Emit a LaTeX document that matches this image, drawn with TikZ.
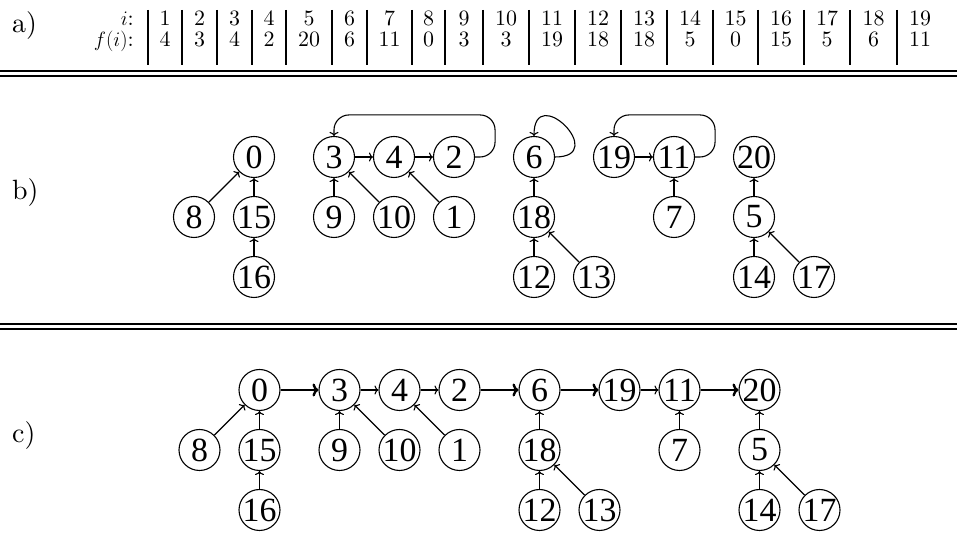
\documentclass[tikz,border=0pt]{standalone}
\usepackage{fontspec}
\usepackage{tikz}
\usetikzlibrary{arrows.meta}
\newfontfamily\numfont{Liberation Serif}
\newfontfamily\tabfont{lmroman10-regular.otf}

\newcommand\drawforest[3]{%
  \begin{scope}[shift={(#2,#3)}, x=20bp, y=20bp]
    \node[vtx] (#10) at (0,0) {0};
    \node[vtx] (#18) at (-3,-3) {8};
    \node[vtx] (#115) at (0,-3) {15};
    \node[vtx] (#116) at (0,-6) {16};
    \node[vtx] (#13) at (4,0) {3};
    \node[vtx] (#14) at (7,0) {4};
    \node[vtx] (#12) at (10,0) {2};
    \node[vtx] (#19) at (4,-3) {9};
    \node[vtx] (#110) at (7,-3) {10};
    \node[vtx] (#11) at (10,-3) {1};
    \node[vtx] (#16) at (14,0) {6};
    \node[vtx] (#118) at (14,-3) {18};
    \node[vtx] (#112) at (14,-6) {12};
    \node[vtx] (#113) at (17,-6) {13};
    \node[vtx] (#119) at (18,0) {19};
    \node[vtx] (#111) at (21,0) {11};
    \node[vtx] (#17) at (21,-3) {7};
    \node[vtx] (#120) at (25,0) {20};
    \node[vtx] (#15) at (25,-3) {5};
    \node[vtx] (#114) at (25,-6) {14};
    \node[vtx] (#117) at (28,-6) {17};
    \draw[lnk] (#18) -- (#10);
    \draw[lnk] (#115) -- (#10);
    \draw[lnk] (#116) -- (#115);
    \draw[lnk] (#19) -- (#13);
    \draw[lnk] (#110) -- (#13);
    \draw[lnk] (#11) -- (#14);
    \draw[lnk] (#13) -- (#14);
    \draw[lnk] (#14) -- (#12);
    \draw[lnk] (#118) -- (#16);
    \draw[lnk] (#112) -- (#118);
    \draw[lnk] (#113) -- (#118);
    \draw[lnk] (#119) -- (#111);
    \draw[lnk] (#17) -- (#111);
    \draw[lnk] (#15) -- (#120);
    \draw[lnk] (#114) -- (#15);
    \draw[lnk] (#117) -- (#15);
  \end{scope}}

\begin{document}
\begin{tikzpicture}[
  x=1bp, y=1bp,
  vtx/.style={circle, draw, line width=1.1bp, minimum size=41bp, inner sep=0pt,
    font=\numfont\fontsize{34}{40}\selectfont},
  lnk/.style={-{To[width=9bp,length=4bp]}, line width=1.1bp},
  jump/.style={-{To[width=13bp,length=6bp]}, line width=2.4bp},
  cell/.style={anchor=base, inner sep=0pt, font=\tabfont\fontsize{22}{26}\selectfont},
  hdr/.style={cell, anchor=base east},
  tag/.style={anchor=base west, inner sep=0pt, font=\tabfont\fontsize{28}{32}\selectfont},
  bar/.style={line width=1.6bp},
  rule/.style={line width=2bp, double distance=3bp}
]
\useasboundingbox (0,0) rectangle (957,533);

\node[tag] (lbla) at (12,500) {a)};
\node[hdr] (hi) at (134,507) {$i$:};
\node[hdr] (hf) at (134,486) {$f(i)$:};
\foreach \i/\f/\l/\r in {1/4/148/182, 2/3/182/217, 3/4/217/252, 4/2/252/286,
    5/20/286/332, 6/6/332/367, 7/11/367/412, 8/0/412/445, 9/3/445/483,
    10/3/483/529, 11/19/529/575, 12/18/575/621, 13/18/621/667, 14/5/667/713,
    15/0/713/758, 16/15/758/804, 17/5/804/850, 18/6/850/897, 19/11/897/943} {
  \node[cell] (i\i) at ({(\l+\r)/2},507) {\i};
  \node[cell] (f\i) at ({(\l+\r)/2},486) {\f};
  \draw[bar] (\l,523) -- (\l,468);
}
\draw[rule] (0,459.8) -- (957,459.8);

\node[tag] (lblb) at (12,333) {b)};
\drawforest{b}{254}{376}
\draw[lnk, rounded corners=15bp] (b2.east) -- ++(20bp,0) |- ([yshift=21bp]b3.north) -- (b3.north);
\draw[lnk] (b6.east) .. controls +(0:55bp) and +(90:55bp) .. (b6.north);
\draw[lnk, rounded corners=15bp] (b11.east) -- ++(20bp,0) |- ([yshift=21bp]b19.north) -- (b19.north);

\draw[rule] (0,206.8) -- (957,206.8);

\node[tag] (lblc) at (12,90) {c)};
\drawforest{c}{259.5}{143}
\draw[jump] (c0) -- (c3);
\draw[jump] (c2) -- (c6);
\draw[jump] (c6) -- (c19);
\draw[jump] (c11) -- (c20);

\end{tikzpicture}
\end{document}
